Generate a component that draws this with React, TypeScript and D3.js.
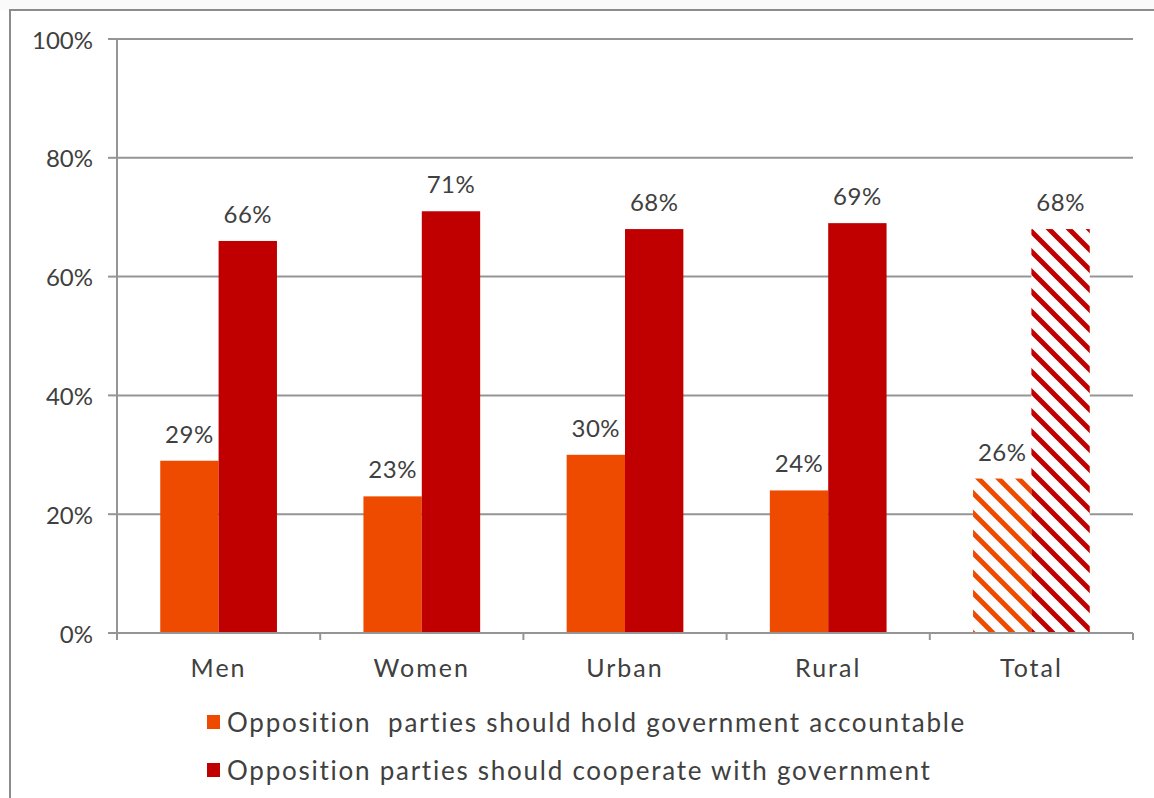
import React from "react";
import * as d3 from "d3";

const categories = ["Men", "Women", "Urban", "Rural", "Total"];
const series = [
  "Opposition  parties should hold government accountable",
  "Opposition parties should cooperate with government",
];
const accountable = [29, 23, 30, 24, 26];
const cooperate = [66, 71, 68, 69, 68];
const yTicks = [0, 20, 40, 60, 80, 100];
const colors = ["#EE4B00", "#C00000"];
const hatchedCategory = "Total";

const W = 1154;
const H = 798;
const FONT = "Lato, 'Open Sans', sans-serif";
const TEXT = "#404040";
const GRID = "#959595";

export default function App() {
  const left = 117, right = 1133, top = 39, bottom = 633;
  const x0 = d3.scaleBand<string>().domain(categories).range([left, right]).padding(0);
  const x1 = d3
    .scaleBand<number>()
    .domain([0, 1])
    .range([0, x0.bandwidth()])
    .paddingInner(0)
    .paddingOuter(0.741);
  const y = d3.scaleLinear().domain([0, 100]).range([bottom, top]);
  const data = [accountable, cooperate];

  return (
    <svg
      width={W}
      height={H}
      style={{ position: "absolute", left: 0, top: 0, background: "#fff" }}
      fontFamily={FONT}
    >
      <defs>
        {colors.map((c, i) => (
          <pattern
            key={i}
            id={`hatch${i}`}
            patternUnits="userSpaceOnUse"
            width={20}
            height={20}
          >
            <rect width={20} height={20} fill="#fff" />
            <path
              d="M-5,-5 L25,25 M-5,15 L5,25 M15,-5 L25,5"
              stroke={c}
              strokeWidth={5}
            />
          </pattern>
        ))}
      </defs>
      <rect x={0} y={0} width={W} height={10} fill="#fafafa" />
      {/* outer frame */}
      <rect x={10} y={10} width={W + 20} height={H + 20} fill="#fff" stroke="#8c8c8c" strokeWidth={2} />

      {/* gridlines + y ticks */}
      {yTicks.map((t) => (
        <g key={t}>
          {t > 0 && (
            <line x1={left} x2={right} y1={y(t)} y2={y(t)} stroke={GRID} strokeWidth={2} />
          )}
          <line x1={108} x2={left} y1={y(t)} y2={y(t)} stroke={GRID} strokeWidth={2} />
          <text
            x={93}
            y={y(t)}
            textAnchor="end"
            dominantBaseline="central"
            fontSize={24}
            fill={TEXT}
          >
            {t}%
          </text>
        </g>
      ))}

      {/* bars */}
      {categories.map((c, ci) =>
        data.map((vals, si) => {
          const bx = (x0(c) as number) + (x1(si) as number);
          const bw = x1.bandwidth();
          const by = y(vals[ci]);
          const fill = c === hatchedCategory ? `url(#hatch${si})` : colors[si];
          return (
            <g key={`${c}-${si}`}>
              <rect x={bx} y={by} width={bw} height={bottom - by} fill={fill} />
              <text
                x={bx + bw / 2}
                y={by - 18}
                textAnchor="middle"
                fontSize={24}
                letterSpacing={0.5}
                fill={TEXT}
              >
                {vals[ci]}%
              </text>
            </g>
          );
        })
      )}

      {/* axes */}
      <line x1={left} x2={left} y1={top} y2={640} stroke={GRID} strokeWidth={2} />
      <line x1={108} x2={right} y1={bottom} y2={bottom} stroke={GRID} strokeWidth={2} />
      {categories.map((c) => (
        <line
          key={c}
          x1={(x0(c) as number) + x0.bandwidth()}
          x2={(x0(c) as number) + x0.bandwidth()}
          y1={bottom}
          y2={640}
          stroke={GRID}
          strokeWidth={2}
        />
      ))}
      {categories.map((c) => (
        <text
          key={c}
          x={(x0(c) as number) + x0.bandwidth() / 2}
          y={667}
          textAnchor="middle"
          dominantBaseline="central"
          fontSize={25}
          letterSpacing={2}
          fill={TEXT}
        >
          {c}
        </text>
      ))}

      {/* legend */}
      {series.map((s, i) => (
        <g key={s} transform={`translate(207, ${722 + i * 48})`}>
          <rect x={0} y={-7} width={13} height={14} fill={colors[i]} />
          <text
            x={20}
            y={0}
            dominantBaseline="central"
            fontSize={26}
            letterSpacing={1.75}
            fill={TEXT}
            style={{ whiteSpace: "pre" }}
          >
            {s}
          </text>
        </g>
      ))}
    </svg>
  );
}
